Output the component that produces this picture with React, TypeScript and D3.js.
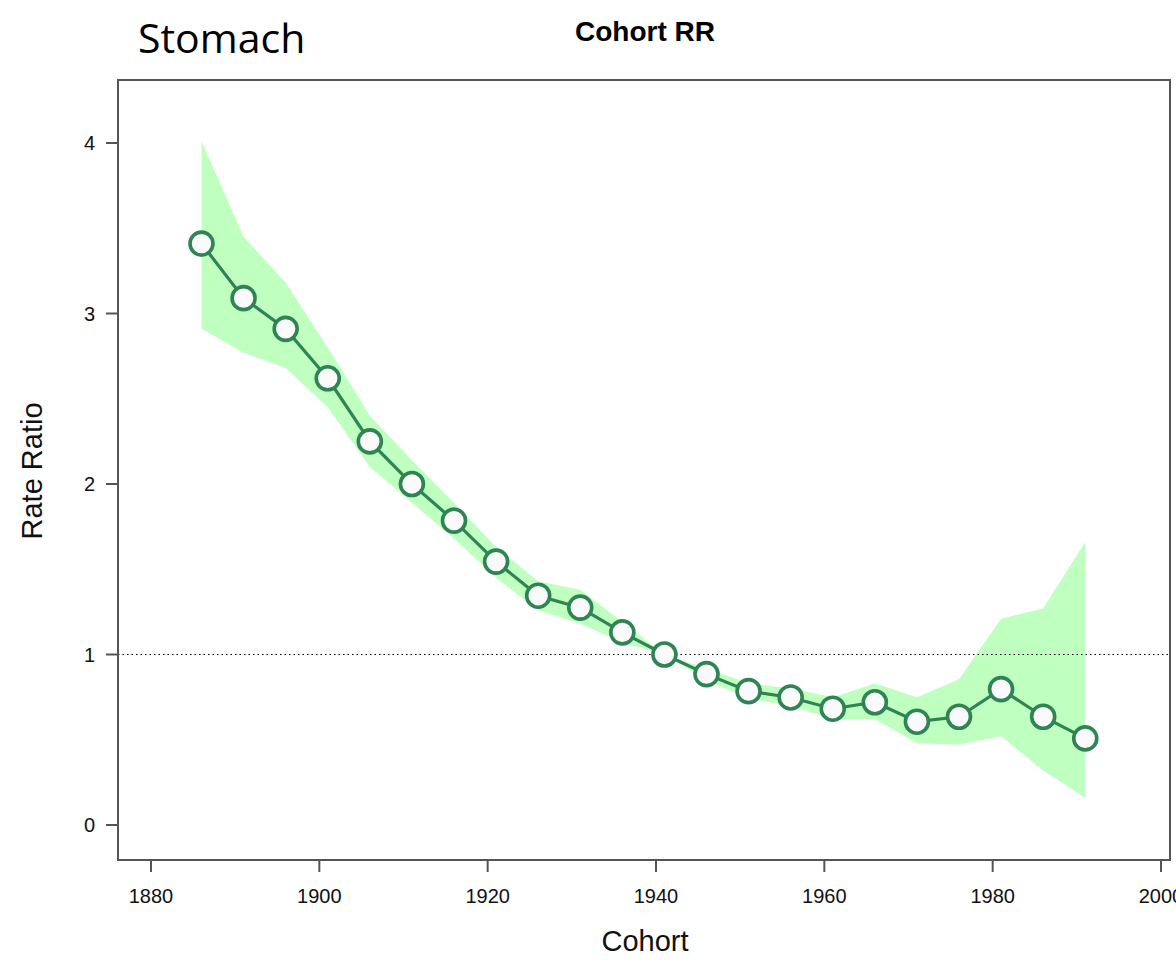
import React from "react";
import * as d3 from "d3";

const cohorts = [1886, 1891, 1896, 1901, 1906, 1911, 1916, 1921, 1926, 1931, 1936, 1941, 1946, 1951, 1956, 1961, 1966, 1971, 1976, 1981, 1986, 1991];
const rateRatio = [3.41, 3.09, 2.91, 2.62, 2.25, 2.0, 1.785, 1.545, 1.345, 1.275, 1.13, 1.0, 0.885, 0.785, 0.748, 0.682, 0.72, 0.606, 0.635, 0.797, 0.635, 0.508];
const upperCI = [4.01, 3.45, 3.18, 2.8, 2.4, 2.14, 1.89, 1.63, 1.43, 1.38, 1.19, 1.0, 0.92, 0.83, 0.8, 0.75, 0.83, 0.75, 0.855, 1.21, 1.27, 1.66];
const lowerCI = [2.91, 2.77, 2.68, 2.45, 2.1, 1.89, 1.68, 1.45, 1.26, 1.18, 1.07, 1.0, 0.85, 0.74, 0.7, 0.62, 0.62, 0.48, 0.47, 0.52, 0.32, 0.16];
const xTicks = [1880, 1900, 1920, 1940, 1960, 1980, 2000];
const yTicks = [0, 1, 2, 3, 4];

export default function App() {
  const left = 118, right = 1170, top = 80, bottom = 860;
  const x = d3.scaleLinear().domain([1880, 2000]).range([151, 1161]);
  const y = d3.scaleLinear().domain([0, 4]).range([825, 143]);
  const idx = cohorts.map((_, i) => i);
  const area = d3.area<number>().x(i => x(cohorts[i])).y0(i => y(lowerCI[i])).y1(i => y(upperCI[i]));
  const line = d3.line<number>().x(i => x(cohorts[i])).y(i => y(rateRatio[i]));
  const font = "'Liberation Sans', Arial, sans-serif";
  return (
    <svg width={1176} height={980} style={{ position: "absolute", left: 0, top: 0, background: "#fff" }}>
      <text x={138} y={53} fontFamily="'Open Sans', sans-serif" fontSize={41} fill="#000">Stomach</text>
      <text x={645} y={41} textAnchor="middle" fontFamily={font} fontWeight="bold" fontSize={28} fill="#000">Cohort RR</text>
      <path d={area(idx) || ""} fill="#bfffbf" stroke="none" />
      <line x1={left} x2={right} y1={y(1)} y2={y(1)} stroke="#000" strokeWidth={1.2} strokeDasharray="1.5,3" />
      <path d={line(idx) || ""} fill="none" stroke="#2e8453" strokeWidth={3.2} />
      {idx.map(i => (
        <circle key={i} cx={x(cohorts[i])} cy={y(rateRatio[i])} r={11.5} fill="#fafafa" stroke="#2e8453" strokeWidth={3.6} />
      ))}
      <rect x={left} y={top} width={right - left} height={bottom - top} fill="none" stroke="#555" strokeWidth={2} />
      {yTicks.map(t => (
        <g key={t}>
          <line x1={106} x2={left} y1={y(t)} y2={y(t)} stroke="#555" strokeWidth={2} />
          <text x={95} y={y(t) + 7} textAnchor="end" fontFamily={font} fontSize={20} fill="#111">{t}</text>
        </g>
      ))}
      {xTicks.map(t => (
        <g key={t}>
          <line x1={x(t)} x2={x(t)} y1={bottom} y2={872} stroke="#555" strokeWidth={2} />
          <text x={x(t)} y={903} textAnchor="middle" fontFamily={font} fontSize={20} fill="#111">{t}</text>
        </g>
      ))}
      <text x={645} y={951} textAnchor="middle" fontFamily={font} fontSize={29} fill="#111">Cohort</text>
      <text transform="translate(42,471) rotate(-90)" textAnchor="middle" fontFamily={font} fontSize={29} fill="#111">Rate Ratio</text>
    </svg>
  );
}
